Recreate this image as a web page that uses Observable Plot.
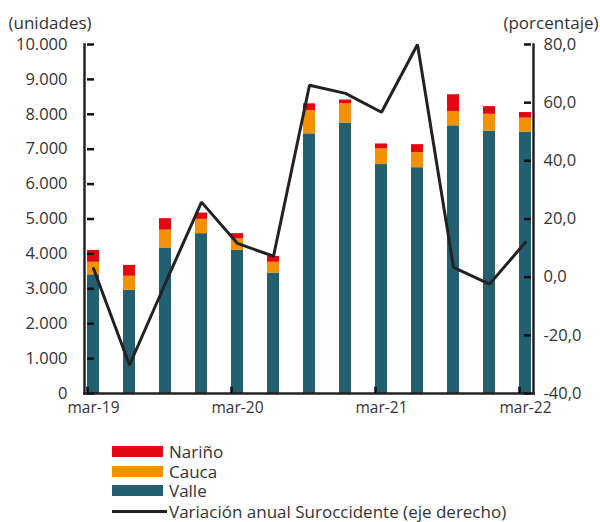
<!DOCTYPE html>
<html>
<head>
<meta charset="utf-8">
<script src="https://cdn.jsdelivr.net/npm/d3@7"></script>
<script src="https://cdn.jsdelivr.net/npm/@observablehq/plot@0.6"></script>
<style>
  body { margin: 0; background: #fff; font-family: "Open Sans", sans-serif; }
  #legend { margin-left: 112px; margin-top: 17px; font-size: 17px; color: #333; }
  .row { display: flex; align-items: center; height: 19.5px; }
  .sw { width: 51px; height: 11px; margin-right: 6px; }
  .ln { width: 55px; height: 3px; background: #222; margin-right: 2px; }
</style>
</head>
<body>
<div id="chart"></div>
<script>
const cats = ["mar-19","jun-19","sep-19","dic-19","mar-20","jun-20","sep-20","dic-20","mar-21","jun-21","sep-21","dic-21","mar-22"];
const valle  = [3400,2960,4170,4580,4100,3450,7440,7750,6560,6470,7670,7520,7490];
const cauca  = [360,400,510,410,330,310,670,550,450,430,410,480,400];
const narino = [340,310,330,180,150,170,190,110,140,230,480,220,160];
const variacion = [3.0,-30.2,-2.0,25.8,11.6,7.2,66.0,63.2,56.7,80.0,3.4,-2.4,12.0];
const leftTicks = [0,1000,2000,3000,4000,5000,6000,7000,8000,9000,10000];
const rightTicks = [-40,-20,0,20,40,60,80];
const xTickLabels = ["mar-19","mar-20","mar-21","mar-22"];
const series = ["Valle","Cauca","Nariño"];
const colors = ["#245e71","#f39200","#e30613"];
const lineName = "Variación anual Suroccidente (eje derecho)";

const loc = d3.formatLocale({decimal: ",", thousands: ".", grouping: [3], currency: ["", ""], minus: "-"});
const fmtL = loc.format(",.0f");
const fmtR = loc.format(".1f");
const toLeft = v => (v + 40) / 120 * 10000;
const toRight = u => u / 10000 * 120 - 40;

const rows = [];
cats.forEach((c, i) => {
  rows.push({cat: c, serie: "Valle", value: valle[i]});
  rows.push({cat: c, serie: "Cauca", value: cauca[i]});
  rows.push({cat: c, serie: "Nariño", value: narino[i]});
});
const lineData = cats.map((c, i) => ({cat: c, v: variacion[i]}));
const rightInLeft = rightTicks.map(toLeft);

const plot = Plot.plot({
  width: 600,
  height: 425,
  marginLeft: 84,
  marginRight: 67,
  marginTop: 44,
  marginBottom: 32,
  style: {fontFamily: "'Open Sans', sans-serif", fontSize: "16px", color: "#333", background: "#fff"},
  x: {type: "band", domain: cats, paddingInner: 0.67, paddingOuter: 0.02, axis: null},
  y: {domain: [0, 10000], axis: null},
  color: {domain: series, range: colors},
  marks: [
    Plot.barY(rows, {x: "cat", y: "value", fill: "serie", order: series}),
    Plot.line(lineData, {x: "cat", y: d => toLeft(d.v), stroke: "#222", strokeWidth: 3, strokeLinejoin: "miter"}),
    Plot.frame({anchor: "left", stroke: "#222", strokeWidth: 2.5}),
    Plot.frame({anchor: "right", stroke: "#222", strokeWidth: 2.5}),
    Plot.frame({anchor: "bottom", stroke: "#222", strokeWidth: 2.5}),
    Plot.tickY(leftTicks, {y: d => d, x: () => cats[0], insetRight: 5, stroke: "#111", strokeWidth: 2.5}),
    Plot.tickY(rightInLeft, {y: d => d, x: () => cats[cats.length - 1], insetLeft: 5, stroke: "#111", strokeWidth: 2.5}),
    Plot.axisY(leftTicks, {anchor: "left", label: null, tickSize: 0, tickPadding: 17, tickFormat: fmtL, fill: "#333", fontSize: 16.5}),
    Plot.axisY(rightInLeft, {anchor: "right", label: null, tickSize: 0, tickPadding: 10, tickFormat: d => fmtR(Math.round(toRight(d) * 10) / 10), fill: "#333", fontSize: 16.5}),
    Plot.ruleX(xTickLabels, {x: d => d, y1: 0, y2: 180, dx: -6, stroke: "#111", strokeWidth: 2.5}),
    Plot.axisX(xTickLabels, {anchor: "bottom", label: null, tickSize: 0, tickPadding: 8, fill: "#333", fontSize: 15.5}),
    Plot.text(["(unidades)"], {frameAnchor: "top-left", text: d => d, dx: -76, dy: -28, textAnchor: "start", fill: "#333", fontSize: 17}),
    Plot.text(["(porcentaje)"], {frameAnchor: "top-right", text: d => d, dx: 65, dy: -28, textAnchor: "end", fill: "#333", fontSize: 17})
  ]
});
document.getElementById("chart").appendChild(plot);

const legend = document.createElement("div");
legend.id = "legend";
[...series].reverse().forEach(s => {
  const r = document.createElement("div");
  r.className = "row";
  const sw = document.createElement("div");
  sw.className = "sw";
  sw.style.background = colors[series.indexOf(s)];
  r.appendChild(sw);
  r.appendChild(document.createTextNode(s));
  legend.appendChild(r);
});
const lr = document.createElement("div");
lr.className = "row";
lr.style.height = "22px";
const ln = document.createElement("div");
ln.className = "ln";
lr.appendChild(ln);
lr.appendChild(document.createTextNode(lineName));
legend.appendChild(lr);
document.getElementById("chart").appendChild(legend);
</script>
</body>
</html>
